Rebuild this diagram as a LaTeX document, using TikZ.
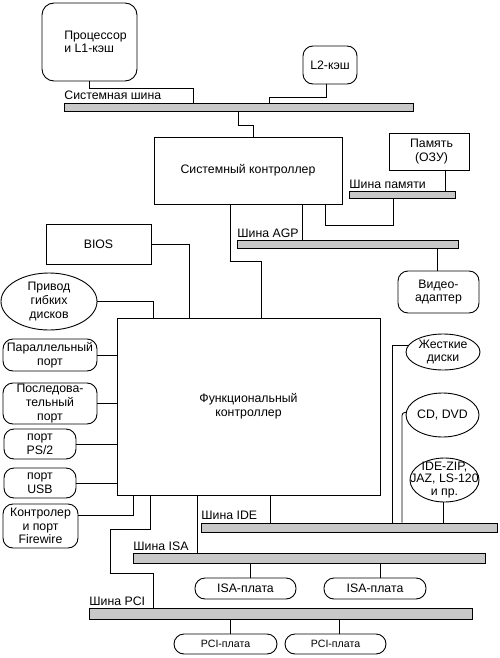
\documentclass[tikz,border=0pt]{standalone}
\usepackage{fontspec}
\setmainfont{Liberation Sans}
\usetikzlibrary{shapes.geometric}
\definecolor{busfill}{RGB}{200,200,200}
\newcommand\dfont{\fontsize{12.3pt}{13.6pt}\selectfont}
\newcommand\tfont{\fontsize{12.3pt}{12.6pt}\selectfont}
\newcommand\sfont{\fontsize{10.6pt}{12pt}\selectfont}
\tikzset{
  txt/.style={font=\dfont, align=center, inner sep=0pt},
  sq/.style={draw, txt},
  rnd/.style={draw, txt, rounded corners=10pt},
  ovl/.style={draw, ellipse, inner sep=0pt},
  busbar/.style={draw, fill=busfill, inner sep=0pt, anchor=north west, minimum height=8pt},
  buslbl/.style={txt, anchor=base west, yshift=3pt},
  wire/.style={draw, line width=0.9pt},
}
\begin{document}
\begin{tikzpicture}[x=1pt,y=-1pt,line width=0.9pt]
\useasboundingbox (0,0) rectangle (500,658);
% ---- top part
\node[rnd, rounded corners=12pt, align=left, minimum width=95pt, minimum height=78pt] (proc) at (89.5,42) {\hspace*{12pt}Процессор\\\hspace*{12pt}и L1-кэш};
\node[rnd, minimum width=54pt, minimum height=38pt] (l2) at (330,65) {L2-кэш};
\node[busbar, minimum width=349pt] (sysbus) at (64,103) {};
\node[buslbl] (lsys) at (sysbus.north west) {Системная шина};
\node[sq, minimum width=188pt, minimum height=67pt] (sysctrl) at (248,170.5) {Системный контроллер};
\node[sq, minimum width=80pt, minimum height=37pt] (mem) at (429,151.5) {\hspace*{5pt}Память\\\hspace*{5pt}(ОЗУ)};
\node[busbar, minimum width=106pt, minimum height=7pt] (membus) at (349,191) {};
\node[buslbl] (lmem) at (membus.north west) {Шина памяти};
\node[busbar, minimum width=221pt] (agp) at (237,240) {};
\node[buslbl] (lagp) at (agp.north west) {Шина AGP};
\node[rnd, minimum width=81pt, minimum height=42pt] (video) at (438.5,292) {Видео-\\адаптер};
\node[sq, minimum width=105pt, minimum height=40pt] (bios) at (98.5,244) {BIOS};
% ---- functional controller and peripherals
\node[sq, minimum width=263pt, minimum height=177pt] (func) at (248.5,406.5) {Функциональный\\контроллер};
\node[ovl, minimum width=96pt, minimum height=57pt] (floppy) at (49,301.5) {};
\node[txt] (floppyt) at (floppy) {Привод\\гибких\\дисков};
\node[rnd, minimum width=94pt, minimum height=32pt] (par) at (50,355) {Параллельный\\порт};
\node[rnd, minimum width=94pt, minimum height=41pt] (ser) at (50,403.5) {Последова-\\тельный\\порт};
\node[rnd, minimum width=72pt, minimum height=30pt] (ps2) at (40,444) {порт\\PS/2};
\node[rnd, minimum width=72pt, minimum height=30pt] (usb) at (40,483) {порт\\USB};
\node[rnd, minimum width=75pt, minimum height=44pt] (fw) at (40.5,526) {Контролер\\и порт\\Firewire};
\node[ovl, minimum width=74pt, minimum height=36pt] (hdd) at (443,352) {};
\node[txt] (hddt) at (hdd) {Жесткие\\диски};
\node[ovl, minimum width=73pt, minimum height=44pt] (cd) at (442.5,415) {};
\node[txt] (cdt) at (cd) {CD, DVD};
\node[ovl, minimum width=69pt, minimum height=44pt] (zip) at (444.5,480) {};
\node[txt, font=\tfont] (zipt) at (zip) {IDE-ZIP,\\JAZ, LS-120\\и пр.};
% ---- lower buses
\node[busbar, minimum width=296pt, minimum height=9pt] (ide) at (201,522.5) {};
\node[buslbl] (lide) at (ide.north west) {Шина IDE};
\node[busbar, minimum width=352pt, minimum height=10pt] (isa) at (133,553) {};
\node[buslbl, yshift=-0.5pt] (lisa) at (isa.north west) {Шина ISA};
\node[busbar, minimum width=383pt, minimum height=11pt] (pci) at (89,608) {};
\node[buslbl] (lpci) at (pci.north west) {Шина PCI};
\node[rnd, minimum width=101pt, minimum height=21pt] (isa1) at (245.5,588.5) {ISA-плата};
\node[rnd, minimum width=102pt, minimum height=21pt] (isa2) at (375,588.5) {ISA-плата};
\node[rnd, font=\sfont, minimum width=103pt, minimum height=20pt] (pci1) at (225.5,644) {PCI-плата};
\node[rnd, font=\sfont, minimum width=101pt, minimum height=20pt] (pci2) at (335.5,644) {PCI-плата};
% ---- bend points
\coordinate (a1) at (193,88);
\coordinate (a2) at (326,97);
\coordinate (a3) at (269,97);
\coordinate (a4) at (238,125);
\coordinate (a5) at (253,125);
\coordinate (a6) at (445,180);
\coordinate (a7) at (393,225);
\coordinate (a8) at (325,225);
\coordinate (a9) at (302,220);
\coordinate (a10) at (230,261);
\coordinate (a11) at (261,261);
\coordinate (a12) at (437,260);
\coordinate (a13) at (189,280);
\coordinate (a14) at (153,310);
\coordinate (a15) at (133,515);
\coordinate (a16) at (150,529);
\coordinate (a17) at (110,529);
\coordinate (a18) at (110,573);
\coordinate (a19) at (153,573);
\coordinate (a20) at (197,540);
\coordinate (a21) at (270,510);
\coordinate (a22) at (392,400);
\coordinate (a23) at (402,450);
\coordinate (a24) at (443,510);
\coordinate (a25) at (250,570);
\coordinate (a26) at (380,570);
\coordinate (a27) at (230,625);
\coordinate (a28) at (339,625);
% ---- connectors
\draw (proc.south) |- (a1) -- (a1 |- sysbus.north);
\draw (l2.south -| a2) -- (a2) -- (a3) -- (a3 |- sysbus.north);
\draw (a4 |- sysbus.south) -- (a4) -- (a5) -- (a5 |- sysctrl.north);
\draw (mem.south -| a6) -- (a6 |- membus.north);
\draw (a7 |- membus.south) -- (a7) -- (a8) -- (a8 |- sysctrl.south);
\draw (a9 |- sysctrl.south) -- (a9 |- agp.north);
\draw (a10 |- sysctrl.south) -- (a10) -- (a11) -- (a11 |- func.north);
\draw (a12 |- agp.south) -- (a12 |- video.north);
\draw (bios.east) -| (a13 |- func.north);
\draw (floppy.east) -| (a14 |- func.north);
\draw (par.east) -- (par.east -| func.west);
\draw (ser.east) -- (ser.east -| func.west);
\draw (ps2.east) -- (ps2.east -| func.west);
\draw (usb.east) -- (usb.east -| func.west);
\draw (fw.east |- a15) -- (a15) -- (a15 |- func.south);
\draw (a16 |- func.south) -- (a16) -- (a17) -- (a18) -- (a19) -- (a19 |- pci.north);
\draw (a20 |- func.south) -- (a20 |- isa.north);
\draw (a21 |- func.south) -- (a21 |- ide.north);
\draw (hdd.170) -| (a22 |- ide.north);
\draw[rounded corners=3pt] (cd.176) -| (a23 |- ide.north);
\draw (zip.south -| a24) -- (a24 |- ide.north);
\draw (a25 |- isa.south) -- (a25 |- isa1.north);
\draw (a26 |- isa.south) -- (a26 |- isa2.north);
\draw (a27 |- pci.south) -- (a27 |- pci1.north);
\draw (a28 |- pci.south) -- (a28 |- pci2.north);
\end{tikzpicture}
\end{document}
